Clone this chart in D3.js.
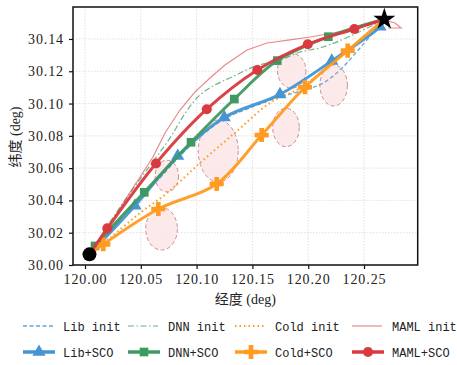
<!DOCTYPE html>
<html><head><meta charset="utf-8">
<script src="https://cdn.jsdelivr.net/npm/d3@7/dist/d3.min.js"></script>
<style>body{margin:0;background:#fff}svg{display:block}</style>
</head><body><svg id="c" width="457" height="365"></svg>
<script>
// ---- data ----
const xTicks = [120.00, 120.05, 120.10, 120.15, 120.20, 120.25];
const xTickLabels = ["120.00", "120.05", "120.10", "120.15", "120.20", "120.25"];
const yTicks = [30.00, 30.02, 30.04, 30.06, 30.08, 30.10, 30.12, 30.14];
const yTickLabels = ["30.00", "30.02", "30.04", "30.06", "30.08", "30.10", "30.12", "30.14"];
const startPt = [120.004, 30.0066];
const goalPt = [120.2682, 30.1522];

const libInit = [[120.004,30.0066],[120.0242,30.0229],[120.0448,30.0390],[120.0654,30.0527],[120.0851,30.0675],[120.1030,30.0793],[120.1246,30.0904],[120.1478,30.0973],[120.1747,30.1041],[120.1971,30.1084],[120.2133,30.1127],[120.2285,30.1208],[120.2464,30.1344],[120.2682,30.1522]];
const dnnInit = [[120.004,30.0066],[120.0224,30.0266],[120.0403,30.0446],[120.0600,30.0632],[120.0762,30.0787],[120.0905,30.0948],[120.1030,30.1053],[120.1165,30.1115],[120.1317,30.1165],[120.1532,30.1233],[120.1747,30.1270],[120.1927,30.1319],[120.2133,30.1350],[120.2437,30.1437],[120.2682,30.1522]];
const coldInit = [[120.004,30.0066],[120.0224,30.0167],[120.0493,30.0322],[120.0735,30.0446],[120.1030,30.0632],[120.1362,30.0830],[120.1658,30.1004],[120.1927,30.1096],[120.2195,30.1239],[120.2464,30.1394],[120.2682,30.1522]];
const mamlInit = [[120.004,30.0066],[120.0134,30.0155],[120.0251,30.0279],[120.0376,30.0421],[120.0493,30.0545],[120.0609,30.0669],[120.0717,30.0818],[120.0851,30.0960],[120.0986,30.1072],[120.1120,30.1158],[120.1254,30.1239],[120.1452,30.1332],[120.1631,30.1375],[120.1837,30.1394],[120.2016,30.1412],[120.2222,30.1437],[120.2419,30.1462],[120.2572,30.1493],[120.2679,30.1517],[120.2778,30.1499],[120.2832,30.1468],[120.2715,30.1468]];

const libSCO = [[120.004,30.0066],[120.0448,30.0367],[120.0831,30.0675],[120.1248,30.0914],[120.1747,30.1057],[120.2211,30.1264],[120.2643,30.1476],[120.2682,30.1522]];
const dnnSCO = [[120.004,30.0066],[120.0090,30.0118],[120.0531,30.0450],[120.0950,30.0760],[120.1338,30.1028],[120.1723,30.1266],[120.2180,30.1414],[120.2682,30.1522]];
const coldSCO = [[120.004,30.0066],[120.0164,30.0128],[120.0657,30.0347],[120.1180,30.0502],[120.1583,30.0805],[120.1971,30.1101],[120.2354,30.1328],[120.2682,30.1522]];
const mamlSCO = [[120.004,30.0066],[120.0200,30.0227],[120.0636,30.0629],[120.1091,30.0965],[120.1544,30.1208],[120.1996,30.1367],[120.2413,30.1462],[120.2682,30.1522]];

// uncertainty ellipses: cx, cy, rx, ry (data units)
const ellipses = [[120.0686,30.0224,0.0142,0.0131],[120.0733,30.0551,0.0105,0.0098],[120.1194,30.0706,0.0179,0.0192],[120.1852,30.1203,0.0128,0.0108],[120.1801,30.0852,0.0119,0.0119],[120.2228,30.1112,0.0123,0.0127]];

const initNames = ["Lib init", "DNN init", "Cold init", "MAML init"];
const scoNames = ["Lib+SCO", "DNN+SCO", "Cold+SCO", "MAML+SCO"];

// ---- drawing ----
const C = {blue:"#4495d1", green:"#3f9a60", orange:"#ff9b21", red:"#d83a3f"};
const svg = d3.select("#c");
const L = 73, R = 417.7, T = 7, B = 265;
const x = d3.scaleLinear().domain([119.98925, 120.2981]).range([L, R]);
const y = d3.scaleLinear().domain([30.0, 30.1598]).range([B, T]);
const FONT = "'Liberation Serif','Noto Sans CJK SC',serif";
const MONO = "'Liberation Mono','DejaVu Sans Mono',monospace";

// grid
const g = svg.append("g");
g.selectAll(".gx").data(xTicks).enter().append("line")
  .attr("x1", d=>x(d)).attr("x2", d=>x(d)).attr("y1", T).attr("y2", B)
  .attr("stroke", "#d9d9d9").attr("stroke-width", 0.8).attr("stroke-dasharray", "1.5,1.5");
g.selectAll(".gy").data(yTicks).enter().append("line")
  .attr("y1", d=>y(d)).attr("y2", d=>y(d)).attr("x1", L).attr("x2", R)
  .attr("stroke", "#d9d9d9").attr("stroke-width", 0.8).attr("stroke-dasharray", "1.5,1.5");

// ellipses
svg.append("g").selectAll("ellipse").data(ellipses).enter().append("ellipse")
  .attr("cx", d=>x(d[0])).attr("cy", d=>y(d[1]))
  .attr("rx", d=>x(d[0]+d[2])-x(d[0])).attr("ry", d=>y(d[1])-y(d[1]+d[3]))
  .attr("fill", "#fce6e8").attr("fill-opacity", 0.85)
  .attr("stroke", "#c98f95").attr("stroke-width", 1).attr("stroke-dasharray", "4,2.5");

const smooth = d3.line().x(d=>x(d[0])).y(d=>y(d[1])).curve(d3.curveCatmullRom.alpha(0.5));
const straight = d3.line().x(d=>x(d[0])).y(d=>y(d[1]));

// init lines
const inits = [
  {d: libInit, c: C.blue, w: 1.3, dash: "4,2.5", op: 0.85, gen: smooth},
  {d: dnnInit, c: C.green, w: 1.2, dash: "6,2.5,1.5,2.5", op: 0.75, gen: smooth},
  {d: coldInit, c: C.orange, w: 2, dash: "1.5,3", op: 1, gen: smooth},
  {d: mamlInit, c: C.red, w: 1.2, dash: null, op: 0.6, gen: straight}
];
inits.forEach(s=>{
  svg.append("path").attr("d", s.gen(s.d)).attr("fill", "none")
    .attr("stroke", s.c).attr("stroke-width", s.w).attr("stroke-opacity", s.op)
    .attr("stroke-dasharray", s.dash);
});

// SCO lines
const scos = [
  {d: libSCO, c: C.blue, sym: d3.symbolTriangle, size: 75},
  {d: dnnSCO, c: C.green, sym: d3.symbolSquare, size: 75},
  {d: coldSCO, c: C.orange, sym: d3.symbolCross, size: 110},
  {d: mamlSCO, c: C.red, sym: d3.symbolCircle, size: 80}
];
scos.forEach(s=>{
  svg.append("path").attr("d", smooth(s.d)).attr("fill", "none")
    .attr("stroke", s.c).attr("stroke-width", 3).attr("stroke-opacity", 0.95);
  svg.append("g").selectAll("path").data(s.d.slice(1, -1)).enter().append("path")
    .attr("transform", d=>`translate(${x(d[0])},${y(d[1])})`)
    .attr("d", d3.symbol().type(s.sym).size(s.size)).attr("fill", s.c);
});

// start / goal
svg.append("circle").attr("cx", x(startPt[0])).attr("cy", y(startPt[1])).attr("r", 7).attr("fill", "#000");
svg.append("path").attr("transform", `translate(${x(goalPt[0])},${y(goalPt[1])})`)
  .attr("d", d3.symbol().type(d3.symbolStar).size(150)).attr("fill", "#000");

// frame
svg.append("rect").attr("x", L).attr("y", T).attr("width", R-L).attr("height", B-T)
  .attr("fill", "none").attr("stroke", "#111").attr("stroke-width", 1.5);

// axes
const xa = svg.append("g").attr("transform", `translate(0,${B})`)
  .call(d3.axisBottom(x).tickValues(xTicks).tickFormat((d,i)=>xTickLabels[i]).tickSize(4).tickPadding(5));
const ya = svg.append("g").attr("transform", `translate(${L},0)`)
  .call(d3.axisLeft(y).tickValues(yTicks).tickFormat((d,i)=>yTickLabels[i]).tickSize(4).tickPadding(5));
[xa, ya].forEach(a=>{
  a.select(".domain").remove();
  a.selectAll(".tick line").attr("stroke", "#111").attr("stroke-width", 1.2);
  a.selectAll(".tick text").attr("font-family", FONT).attr("font-size", 14)
    .attr("letter-spacing", "0.9px").attr("fill", "#222");
});

svg.append("text").attr("x", (L+R)/2).attr("y", 304).attr("text-anchor", "middle")
  .attr("font-family", FONT).attr("font-size", 14).attr("fill", "#222").text("经度 (deg)");
svg.append("text").attr("transform", "translate(20,137) rotate(-90)").attr("text-anchor", "middle")
  .attr("font-family", FONT).attr("font-size", 14).attr("fill", "#222").text("纬度 (deg)");

// legend
const colX = [23, 128, 235, 352];
const rowY = [326, 352];
inits.forEach((s,i)=>{
  const lg = svg.append("g");
  lg.append("line").attr("x1", colX[i]).attr("x2", colX[i]+30).attr("y1", rowY[0]).attr("y2", rowY[0])
    .attr("stroke", s.c).attr("stroke-width", s.w).attr("stroke-opacity", s.op).attr("stroke-dasharray", s.dash);
  lg.append("text").attr("x", colX[i]+40).attr("y", rowY[0]+4.5).attr("font-family", MONO).attr("font-size", 12)
    .attr("fill", "#222").text(initNames[i]);
});
scos.forEach((s,i)=>{
  const lg = svg.append("g");
  lg.append("line").attr("x1", colX[i]).attr("x2", colX[i]+32).attr("y1", rowY[1]).attr("y2", rowY[1])
    .attr("stroke", s.c).attr("stroke-width", 3.5);
  lg.append("path").attr("transform", `translate(${colX[i]+16},${rowY[1]})`)
    .attr("d", d3.symbol().type(s.sym).size(s.size)).attr("fill", s.c);
  lg.append("text").attr("x", colX[i]+40).attr("y", rowY[1]+4.5).attr("font-family", MONO).attr("font-size", 12)
    .attr("fill", "#222").text(scoNames[i]);
});
</script></body></html>
